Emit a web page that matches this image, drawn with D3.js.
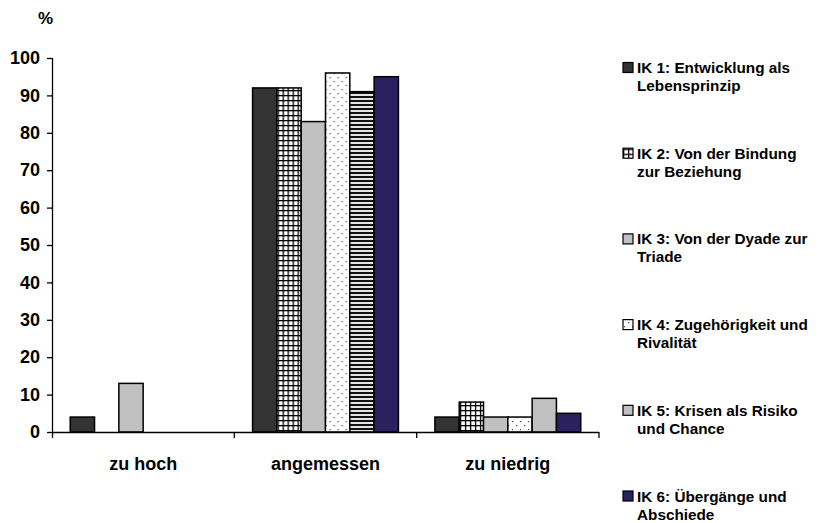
<!DOCTYPE html>
<html>
<head>
<meta charset="utf-8">
<script src="https://cdn.jsdelivr.net/npm/d3@7"></script>
<style>
  html, body { margin: 0; padding: 0; background: #fff; }
  svg { display: block; }
  text { font-family: "Liberation Sans", Arial, sans-serif; font-weight: bold; fill: #000; }
</style>
</head>
<body>
<svg id="chart" width="830" height="523"></svg>
<script>
// Rating categories along the x axis
const categories = ["zu hoch", "angemessen", "zu niedrig"];

// Series (legend entries), each label split over two lines
const seriesNames = ["IK 1", "IK 2", "IK 3", "IK 4", "IK 5", "IK 6"];
const seriesLabels = [
  ["IK 1: Entwicklung als", "Lebensprinzip"],
  ["IK 2: Von der Bindung", "zur Beziehung"],
  ["IK 3: Von der Dyade zur", "Triade"],
  ["IK 4: Zugehörigkeit und", "Rivalität"],
  ["IK 5: Krisen als Risiko", "und Chance"],
  ["IK 6: Übergänge und", "Abschiede"]
];

// Percentages per series, in category order
const ik1 = [4, 92, 4];
const ik2 = [0, 92, 8];
const ik3 = [13, 83, 4];
const ik4 = [0, 96, 4];
const ik5 = [0, 91, 9];
const ik6 = [0, 95, 5];
const seriesValues = [ik1, ik2, ik3, ik4, ik5, ik6];

// Y axis ticks
const yTicks = [0, 10, 20, 30, 40, 50, 60, 70, 80, 90, 100];

// Single data point with its own striped fill: [series index, category index]
const stripedPoint = [4, 1];

const svg = d3.select("#chart");
const defs = svg.append("defs");

// Fill patterns
const grid = defs.append("pattern").attr("id", "pGrid")
  .attr("patternUnits", "userSpaceOnUse").attr("width", 5).attr("height", 5);
grid.append("rect").attr("width", 5).attr("height", 5).attr("fill", "#fff");
grid.append("rect").attr("x", 0).attr("y", 0).attr("width", 1.3).attr("height", 5).attr("fill", "#000");
grid.append("rect").attr("x", 0).attr("y", 0).attr("width", 5).attr("height", 1.3).attr("fill", "#000");

const dots = defs.append("pattern").attr("id", "pDots")
  .attr("patternUnits", "userSpaceOnUse").attr("width", 8).attr("height", 8);
dots.append("rect").attr("width", 8).attr("height", 8).attr("fill", "#fff");
dots.append("rect").attr("x", 1).attr("y", 1).attr("width", 1.2).attr("height", 1.2).attr("fill", "#444");
dots.append("rect").attr("x", 5).attr("y", 5).attr("width", 1.2).attr("height", 1.2).attr("fill", "#444");

const stripes = defs.append("pattern").attr("id", "pStripes")
  .attr("patternUnits", "userSpaceOnUse").attr("width", 4).attr("height", 4);
stripes.append("rect").attr("width", 4).attr("height", 4).attr("fill", "#e4e4e4");
stripes.append("rect").attr("y", 0).attr("width", 4).attr("height", 2).attr("fill", "#111");

const seriesFills = ["#333333", "url(#pGrid)", "#c0c0c0", "url(#pDots)", "#c0c0c0", "#2c2160"];

// Plot area
const plot = { left: 52, right: 599, top: 58, bottom: 432 };

const x0 = d3.scaleBand().domain(categories).range([plot.left, plot.right]).paddingInner(0.2).paddingOuter(0.1);
const x1 = d3.scaleBand().domain(seriesNames).range([0, x0.bandwidth()]).padding(0);
const y = d3.scaleLinear().domain([0, 100]).range([plot.bottom, plot.top]);

// Bars
const groups = svg.append("g").selectAll("g")
  .data(categories)
  .join("g")
  .attr("transform", c => `translate(${x0(c)},0)`);

groups.selectAll("rect")
  .data((c, ci) => seriesNames.map((s, si) => ({ s, si, ci, v: seriesValues[si][ci] })).filter(d => d.v > 0))
  .join("rect")
  .attr("x", d => x1(d.s))
  .attr("y", d => y(d.v))
  .attr("width", x1.bandwidth())
  .attr("height", d => y(0) - y(d.v))
  .attr("fill", d => (d.si === stripedPoint[0] && d.ci === stripedPoint[1]) ? "url(#pStripes)" : seriesFills[d.si])
  .attr("stroke", "#000")
  .attr("stroke-width", 1.5);

// Y axis
const yAxis = svg.append("g")
  .attr("transform", `translate(${plot.left},0)`)
  .call(d3.axisLeft(y).tickValues(yTicks).tickSize(5).tickPadding(7).tickSizeOuter(0));
yAxis.select(".domain").attr("stroke", "#000").attr("stroke-width", 1.3)
  .attr("d", `M0.5,${plot.top}V${plot.bottom + 6}`);
yAxis.selectAll(".tick line").attr("stroke", "#000").attr("stroke-width", 1.3);
yAxis.selectAll(".tick text")
  .style("font-family", "'Liberation Sans', Arial, sans-serif")
  .style("font-weight", "bold").style("font-size", "18px").attr("fill", "#000");

// X axis: ticks between categories
const xAxis = svg.append("g").attr("transform", `translate(0,${plot.bottom})`);
xAxis.append("path")
  .attr("d", `M${plot.left},0.5H${plot.right}`)
  .attr("stroke", "#000").attr("stroke-width", 1.3).attr("fill", "none");
const boundaries = categories.map(c => x0(c) + x0.bandwidth() + x0.step() * x0.paddingInner() / 2);
boundaries[boundaries.length - 1] = plot.right;
xAxis.selectAll("line.sep")
  .data(boundaries)
  .join("line")
  .attr("x1", d => d).attr("x2", d => d)
  .attr("y1", 0).attr("y2", 6)
  .attr("stroke", "#000").attr("stroke-width", 1.3);
xAxis.selectAll("text.cat")
  .data(categories)
  .join("text")
  .attr("x", c => x0(c) + x0.bandwidth() / 2)
  .attr("y", 38)
  .attr("text-anchor", "middle")
  .style("font-size", "18px")
  .text(c => c);

// Unit label
svg.append("text").attr("x", 38).attr("y", 24).style("font-size", "17px").text("%");

// Legend
const legend = svg.append("g");
const legendY0 = 68, legendStep = 85.7, lineGap = 18;
const items = legend.selectAll("g")
  .data(seriesLabels)
  .join("g")
  .attr("transform", (d, i) => `translate(623,${legendY0 + i * legendStep})`);
items.append("rect")
  .attr("x", 0).attr("y", -5.5).attr("width", 10).attr("height", 10)
  .attr("fill", (d, i) => seriesFills[i])
  .attr("stroke", "#000").attr("stroke-width", 1.2);
items.append("text")
  .attr("x", 14).attr("y", 5)
  .style("font-size", "15.3px")
  .text(d => d[0]);
items.append("text")
  .attr("x", 14).attr("y", 5 + lineGap)
  .style("font-size", "15.3px")
  .text(d => d[1]);
</script>
</body>
</html>
